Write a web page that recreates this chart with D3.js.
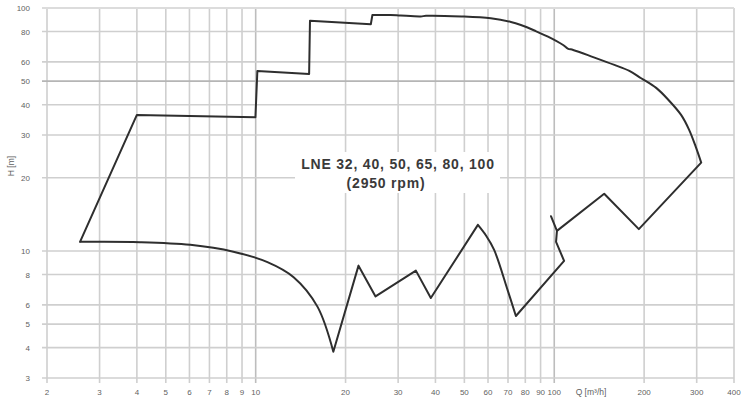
<!DOCTYPE html>
<html><head><meta charset="utf-8">
<script src="https://cdn.jsdelivr.net/npm/d3@7"></script>
<style>body{margin:0;background:#fff}svg{display:block}</style>
</head><body>
<svg id="c" width="741" height="404"></svg>
<script>
const xTicks = [2,3,4,5,6,7,8,9,10,20,30,40,50,60,70,80,90,100,200,300,400];
const yTicks = [3,4,5,6,8,10,20,30,40,50,60,80,100];
const xTickLabels = ["2","3","4","5","6","7","8","9","10","20","30","40","50","60","70","80","90","100","200","300","400"];
const yTickLabels = ["3","4","5","6","8","10","20","30","40","50","60","80","100"];
// envelope path (Q in m3/h, H in m)
const envQ = [2.58,4.0,9.98,10.13,15.1,15.2,24.3,24.6,28.3,30.6,35.7,37.2,49.0,61.3,71.6,77.3,86.6,95.3,107.1,111,115.7,135,159,178.5,195.5,219.5,241,266,283,297.9,310.6,
  192,147,102.1,97.5,102.1,101.4,107.9,74.4,69.8,62.9,59.0,55.5,38.6,34.4,25.2,22.1,18.2,16.1,13.4,10.95,8.42,6.04,4.10,2.58];
const envH = [10.9,36.3,35.5,55,53.5,88.7,85.7,93.6,93.6,93.1,92.3,92.9,92.3,90.7,87.6,85.1,80.4,76.2,70.4,68.1,67.2,62.8,58.3,55.1,51.4,46.9,41.9,36.3,31.5,26.8,23.1,
  12.3,17.2,12.1,13.9,12.1,10.9,9.1,5.4,6.9,10.1,11.6,12.8,6.4,8.3,6.5,8.7,3.85,5.9,7.8,9.0,9.93,10.6,10.87,10.9];
const titleLines = ["LNE 32, 40, 50, 65, 80, 100","(2950 rpm)"];
const xLabel = "Q [m\u00b3/h]";
const yLabel = "H [m]";

const svg = d3.select("#c");
const x = d3.scaleLog().domain([2,400]).range([47,734]);
const y = d3.scaleLog().domain([3,100]).range([378,8]);
const font = "'Liberation Sans', Arial, sans-serif";

const g = svg.append("g");
// vertical grid
g.selectAll("line.vx").data(xTicks).join("line")
  .attr("x1",d=>x(d)).attr("x2",d=>x(d)).attr("y1",y(100)).attr("y2",y(3)+5)
  .attr("stroke",d=>(d===10||d===100)?"#bdbdbd":"#cfcfcf").attr("stroke-width",1.6);
// horizontal grid
g.selectAll("line.hy").data(yTicks).join("line")
  .attr("y1",d=>y(d)).attr("y2",d=>y(d)).attr("x1",x(2)-5).attr("x2",x(400))
  .attr("stroke",d=>d===50?"#b5b5b5":(d===100?"#dcdcdc":"#cfcfcf")).attr("stroke-width",d=>d===100?2.2:1.6);

// x tick labels
g.selectAll("text.xl").data(xTicks).join("text")
  .attr("x",d=>x(d)).attr("y",395).attr("text-anchor","middle")
  .attr("font-family",font).attr("font-size",8).attr("fill","#5f5f5f")
  .text((d,i)=>xTickLabels[i]);
// y tick labels
g.selectAll("text.yl").data(yTicks).join("text")
  .attr("x",30).attr("y",d=>y(d)+3).attr("text-anchor","end")
  .attr("font-family",font).attr("font-size",8).attr("fill","#5f5f5f")
  .text((d,i)=>yTickLabels[i]);
// axis labels
g.append("text").attr("x",591).attr("y",395).attr("text-anchor","middle")
  .attr("font-family",font).attr("font-size",8.5).attr("fill","#5f5f5f").text(xLabel);
g.append("text").attr("transform","translate(14,166) rotate(-90)").attr("text-anchor","middle")
  .attr("font-family",font).attr("font-size",8.5).attr("fill","#5f5f5f").text(yLabel);

// title box
g.append("rect").attr("x",295).attr("y",152).attr("width",205).attr("height",41).attr("fill","#fff");
g.append("text").attr("x",398).attr("y",169).attr("text-anchor","middle")
  .attr("font-family",font).attr("font-size",14).attr("font-weight","bold").attr("fill","#3a3a3a")
  .attr("letter-spacing",0.8).text(titleLines[0]);
g.append("text").attr("x",386).attr("y",188).attr("text-anchor","middle")
  .attr("font-family",font).attr("font-size",14).attr("font-weight","bold").attr("fill","#3a3a3a")
  .attr("letter-spacing",0.8).text(titleLines[1]);

// envelope: linear pieces for the steps/zig-zags, smooth pieces for the curved arcs
const pts = envQ.map((q,i)=>[q,envH[i]]);
const breaks = [0,7,30,38,42,47,pts.length-1];
const smooth = [false,true,false,true,false,true];
const lin = d3.line().x(d=>x(d[0])).y(d=>y(d[1]));
const crv = d3.line().x(d=>x(d[0])).y(d=>y(d[1])).curve(d3.curveCatmullRom.alpha(0.5));
let dStr = "";
for (let k=0;k<smooth.length;k++){
  const seg = pts.slice(breaks[k], breaks[k+1]+1);
  dStr += (smooth[k]?crv:lin)(seg);
}
g.append("path").attr("d",dStr).attr("fill","none").attr("stroke","#2e2e2e")
  .attr("stroke-width",2).attr("stroke-linejoin","round").attr("stroke-linecap","round");
</script>
</body></html>
